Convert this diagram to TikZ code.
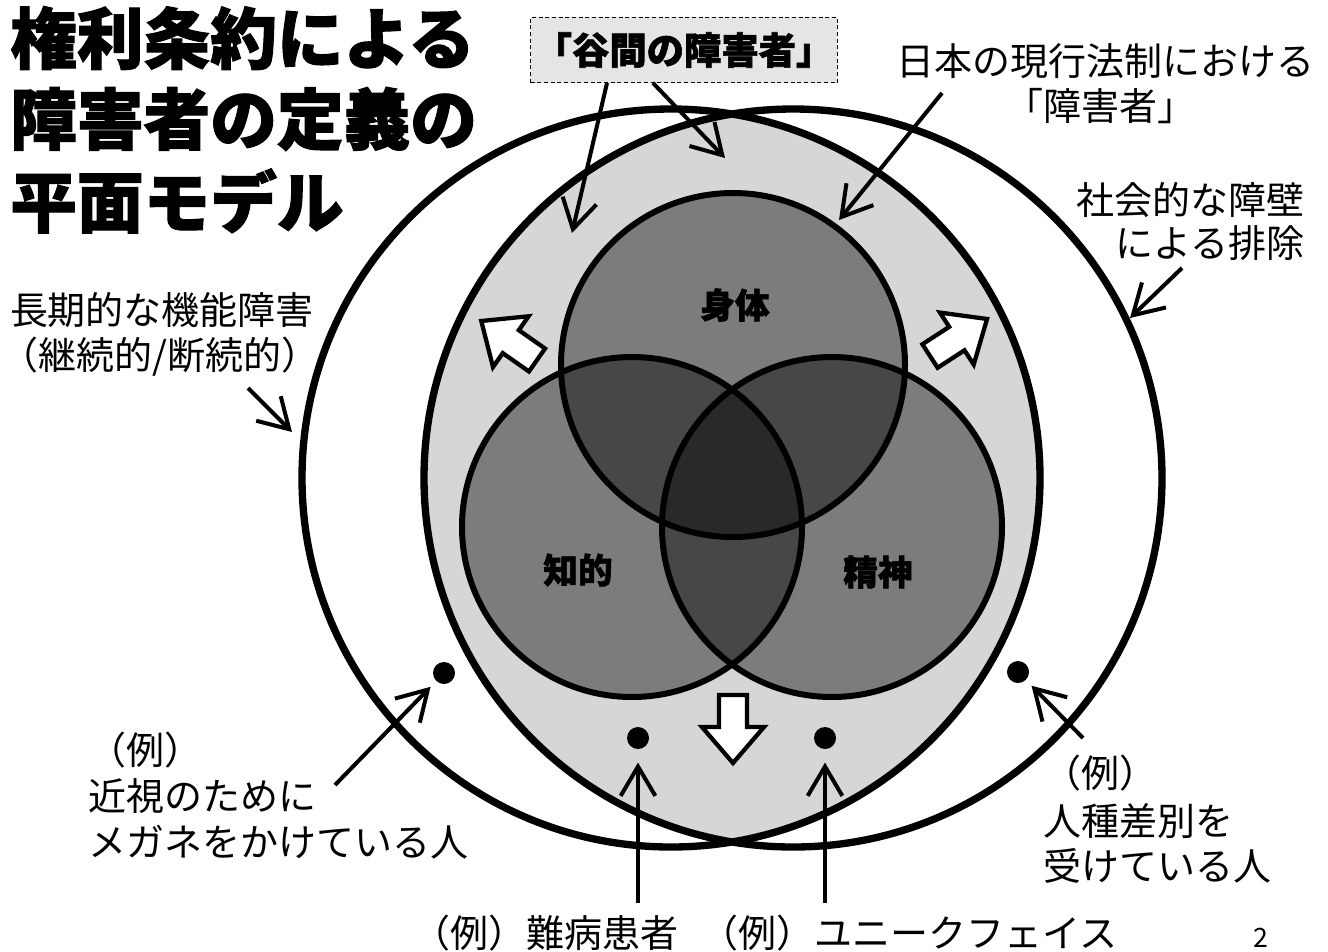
\documentclass[tikz,border=0pt]{standalone}
\usepackage{fontspec}
\newfontfamily\jp{Noto Sans CJK JP}
\newfontfamily\jpheavy{Noto Sans CJK JP}[BoldFeatures={FakeBold=1.6}]
\usetikzlibrary{arrows.meta}
\begin{document}
\begin{tikzpicture}[x=0.75pt,y=-0.75pt,
  bigc/.style={line width=5.5pt},
  vennc/.style={line width=4.5pt},
  vennfill/.style={fill=black, fill opacity=0.42},
  lensgray/.style={fill=black!16},
  lbl/.style={font=\jp\fontsize{28.5pt}{34pt}\selectfont, inner sep=0pt},
  title/.style={font=\jpheavy\bfseries\fontsize{50pt}{58pt}\selectfont, inner sep=0pt, anchor=west},
  vlbl/.style={font=\jpheavy\bfseries\fontsize{26pt}{30pt}\selectfont, inner sep=0pt},
  gapbox/.style={draw, dash pattern=on 3pt off 2pt, line width=1pt, fill=black!10,
    minimum width=230pt, minimum height=49pt, inner sep=0pt,
    font=\jpheavy\bfseries\fontsize{28pt}{32pt}\selectfont},
  ptr/.style={line width=3pt, -{Straight Barb[length=22pt,width=26pt]}},
  dot/.style={circle, fill=black, inner sep=0pt, minimum size=16.5pt},
  hollow arrow/.pic={\draw[line width=3.2pt, fill=white, line join=miter]
    (0,-14) -- (32,-14) -- (32,-31) -- (68,0) -- (32,31) -- (32,14) -- (0,14) -- cycle;}
]
\useasboundingbox (0,0) rectangle (1328,951);
\fill[white] (0,0) rectangle (1328,951);

% lens: intersection of the two large circles
\begin{scope}
  \clip (671,478) circle[radius=369];
  \fill[lensgray] (793,478) circle[radius=369];
\end{scope}

% Venn circles
\fill[vennfill] (733,365) circle[radius=172];
\fill[vennfill] (632,527) circle[radius=170];
\fill[vennfill] (832,527) circle[radius=170];
\draw[vennc] (733,365) circle[radius=172];
\draw[vennc] (632,527) circle[radius=170];
\draw[vennc] (832,527) circle[radius=170];

% large circles
\draw[bigc] (671,478) circle[radius=369];
\draw[bigc] (793,478) circle[radius=369];

% Venn labels
\node[vlbl] (shintai) at (735,305) {身体};
\node[vlbl] (chiteki) at (578,570) {知的};
\node[vlbl] (seishin) at (878,572) {精神};

% hollow block arrows
\pic (haL) [rotate=145] at (537,360) {hollow arrow};
\pic (haR) [rotate=33] at (930,356) {hollow arrow};
\pic (haD) [rotate=-90] at (733,695) {hollow arrow};

% title
\node[title] (t1) at (10,38) {権利条約による};
\node[title] (t2) at (10,119) {障害者の定義の};
\node[title] (t3) at (10,201) {平面モデル};

% box
\node[gapbox] (gap) at (684,50) {「谷間の障害者」};

% labels
\node[lbl] (jp1) at (1105,61) {日本の現行法制における};
\node[lbl] (jp2) at (1100,106) {「障害者」};
\node[lbl] (sb1) at (1190,200) {社会的な障壁};
\node[lbl] (sb2) at (1210,243) {による排除};
\node[lbl] (lt1) at (162,310) {長期的な機能障害};
\node[lbl] (lt2) at (160,357) {（継続的/断続的）};
\node[lbl, anchor=west] (ex1a) at (88,750) {（例）};
\node[lbl, anchor=west] (ex1b) at (88,796) {近視のために};
\node[lbl, anchor=west] (ex1c) at (88,842) {メガネをかけている人};
\node[lbl, anchor=west] (ex2a) at (1043,773) {（例）};
\node[lbl, anchor=west] (ex2b) at (1043,821) {人種差別を};
\node[lbl, anchor=west] (ex2c) at (1043,866) {受けている人};
\node[lbl, anchor=west] (ex3) at (412,933) {（例）難病患者};
\node[lbl, anchor=west] (ex4) at (700,933) {（例）ユニークフェイス};
\node[font=\jp\fontsize{20pt}{24pt}\selectfont, inner sep=0pt] (pg) at (1261,938) {2};

% dots
\node[dot] (dA) at (444,673) {};
\node[dot] (dB) at (638,738) {};
\node[dot] (dC) at (825,738) {};
\node[dot] (dD) at (1018,672) {};

% pointer coordinates
\coordinate (g1s) at (607,83);  \coordinate (g1e) at (572,233);
\coordinate (g2s) at (653,83);  \coordinate (g2e) at (725,158);
\coordinate (j1s) at (942,93);  \coordinate (j1e) at (839,220);
\coordinate (s1s) at (1182,268); \coordinate (s1e) at (1130,318);
\coordinate (l1s) at (248,388); \coordinate (l1e) at (292,432);
\coordinate (mAs) at (335,785);
\coordinate (mBs) at (638,903);
\coordinate (mCs) at (825,903);
\coordinate (mDs) at (1083,738);

% pointers
\draw[ptr] (g1s) -- (g1e);
\draw[ptr] (g2s) -- (g2e);
\draw[ptr] (j1s) -- (j1e);
\draw[ptr] (s1s) -- (s1e);
\draw[ptr] (l1s) -- (l1e);
\draw[ptr, shorten >=6pt] (mAs) -- (dA);
\draw[ptr, shorten >=10pt] (mBs) -- (dB);
\draw[ptr, shorten >=10pt] (mCs) -- (dC);
\draw[ptr, shorten >=6pt] (mDs) -- (dD);
\end{tikzpicture}
\end{document}
